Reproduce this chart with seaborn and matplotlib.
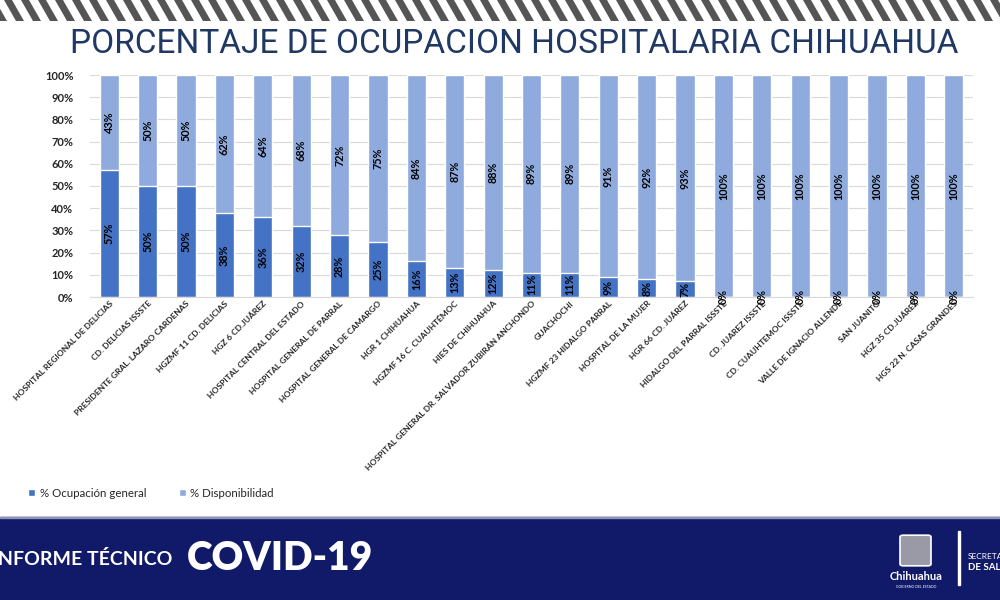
import matplotlib
matplotlib.use("Agg")
import matplotlib.pyplot as plt
from matplotlib.patches import Polygon, Rectangle, FancyBboxPatch
from matplotlib.ticker import PercentFormatter
import seaborn as sns
import pandas as pd

hospitales = [
    "HOSPITAL REGIONAL DE DELICIAS",
    "CD. DELICIAS ISSSTE",
    "PRESIDENTE GRAL. LAZARO CARDENAS",
    "HGZMF 11 CD. DELICIAS",
    "HGZ 6 CD.JUÁREZ",
    "HOSPITAL CENTRAL DEL ESTADO",
    "HOSPITAL GENERAL DE PARRAL",
    "HOSPITAL GENERAL DE CAMARGO",
    "HGR 1 CHIHUAHUA",
    "HGZMF 16 C. CUAUHTÉMOC",
    "HIES DE CHIHUAHUA",
    "HOSPITAL GENERAL DR. SALVADOR ZUBIRÁN ANCHONDO",
    "GUACHOCHI",
    "HGZMF 23 HIDALGO PARRAL",
    "HOSPITAL DE LA MUJER",
    "HGR 66 CD. JUÁREZ",
    "HIDALGO DEL PARRAL ISSSTE",
    "CD. JUAREZ ISSSTE",
    "CD. CUAUHTEMOC ISSSTE",
    "VALLE DE IGNACIO ALLENDE",
    "SAN JUANITO",
    "HGZ 35 CD.JUÁREZ",
    "HGS 22 N. CASAS GRANDES",
]
ocupacion = [57, 50, 50, 38, 36, 32, 28, 25, 16, 13, 12, 11, 11, 9, 8, 7, 0, 0, 0, 0, 0, 0, 0]
disponibilidad = [43, 50, 50, 62, 64, 68, 72, 75, 84, 87, 88, 89, 89, 91, 92, 93, 100, 100, 100, 100, 100, 100, 100]

COLOR_OCU = "#4472C4"
COLOR_DIS = "#8FAADC"
NAVY = "#111A68"

df = pd.DataFrame({
    "hospital": hospitales,
    "ocupacion": ocupacion,
    "disponibilidad": disponibilidad,
})
df["total"] = df["ocupacion"] + df["disponibilidad"]

sns.set_style("white")
plt.rcParams["font.family"] = ["Lato", "DejaVu Sans"]

fig = plt.figure(figsize=(10, 6), dpi=100)

# franja de rayas superior
ax_top = fig.add_axes([0, 0.965, 1, 0.035])
ax_top.set_xlim(0, 1000)
ax_top.set_ylim(0, 21)
ax_top.axis("off")
for x0 in range(-30, 1020, 17):
    ax_top.add_patch(Polygon([(x0, 21), (x0 + 8, 21), (x0 + 20, 0), (x0 + 12, 0)],
                             closed=True, color="#555555", lw=0))

fig.text(0.514, 0.927, "PORCENTAJE DE OCUPACION HOSPITALARIA CHIHUAHUA",
         ha="center", va="center", fontsize=24, color="#203864",
         family=["Roboto", "DejaVu Sans"])

ax = fig.add_axes([0.09, 0.505, 0.883, 0.37])
sns.barplot(data=df, x="hospital", y="total", color=COLOR_DIS, width=0.5,
            saturation=1, ax=ax, label="% Disponibilidad")
sns.barplot(data=df, x="hospital", y="ocupacion", color=COLOR_OCU, width=0.5,
            saturation=1, ax=ax, label="% Ocupación general")

for i, (o, d) in enumerate(zip(ocupacion, disponibilidad)):
    ax.text(i, o / 2, f"{o}%", rotation=90, ha="center", va="center",
            fontsize=7.8, fontweight="bold", color="black")
    ax.text(i, o + d / 2, f"{d}%", rotation=90, ha="center", va="center",
            fontsize=7.8, fontweight="bold", color="black")

ax.set_ylim(0, 100)
ax.set_xlim(-0.5, len(hospitales) - 0.5)
ax.set_yticks(range(0, 101, 10))
ax.yaxis.set_major_formatter(PercentFormatter(decimals=0))
ax.yaxis.grid(True, color="#D9D9D9", lw=0.8)
ax.set_axisbelow(True)
for s in ["top", "right", "left"]:
    ax.spines[s].set_visible(False)
ax.spines["bottom"].set_color("#D9D9D9")
ax.set_xlabel("")
ax.set_ylabel("")
ax.tick_params(axis="y", labelsize=8, length=0, pad=12)
ax.tick_params(axis="x", length=0, pad=2)
for lab in ax.get_yticklabels():
    lab.set_fontweight("bold")
ax.set_xticks(range(len(hospitales)))
ax.set_xticklabels(hospitales, rotation=45, ha="right", rotation_mode="anchor",
                   fontsize=6.1, fontweight="bold")

handles, labels = ax.get_legend_handles_labels()
ax.legend(handles[::-1], labels[::-1], loc="center left",
          bbox_to_anchor=(0.018, 0.178), bbox_transform=fig.transFigure,
          ncol=2, frameon=False, fontsize=8.3, handlelength=0.6, handleheight=0.6,
          columnspacing=2.8, handletextpad=0.4)

# banda inferior
fig.patches.append(Rectangle((0, 0), 1, 0.138, transform=fig.transFigure,
                             color=NAVY, zorder=0))
fig.patches.append(Rectangle((0, 0.136), 1, 0.003, transform=fig.transFigure,
                             color="#8C93B8", zorder=1))
fig.text(-0.008, 0.069, "INFORME TÉCNICO", color="white", fontsize=14,
         fontweight="bold", va="center", ha="left")
fig.text(0.187, 0.069, "COVID-19", color="white", fontsize=28,
         fontweight="heavy", va="center", ha="left")
fig.patches.append(FancyBboxPatch((0.903, 0.06), 0.025, 0.045,
                                  boxstyle="round,pad=0.003",
                                  transform=fig.transFigure,
                                  fc="#9A9AA6", ec="white", lw=1.2, zorder=2))
fig.text(0.916, 0.04, "Chihuahua", color="white", fontsize=8,
         fontweight="bold", ha="center", va="center")
fig.text(0.916, 0.022, "GOBIERNO DEL ESTADO", color="white", fontsize=2.5,
         ha="center", va="center")
fig.patches.append(Rectangle((0.958, 0.025), 0.0015, 0.09,
                             transform=fig.transFigure, color="white", zorder=2))
fig.text(0.968, 0.073, "SECRETARÍA", color="white", fontsize=6,
         ha="left", va="center")
fig.text(0.968, 0.055, "DE SALUD", color="white", fontsize=7,
         fontweight="bold", ha="left", va="center")

fig.savefig("out.png", dpi=100)
